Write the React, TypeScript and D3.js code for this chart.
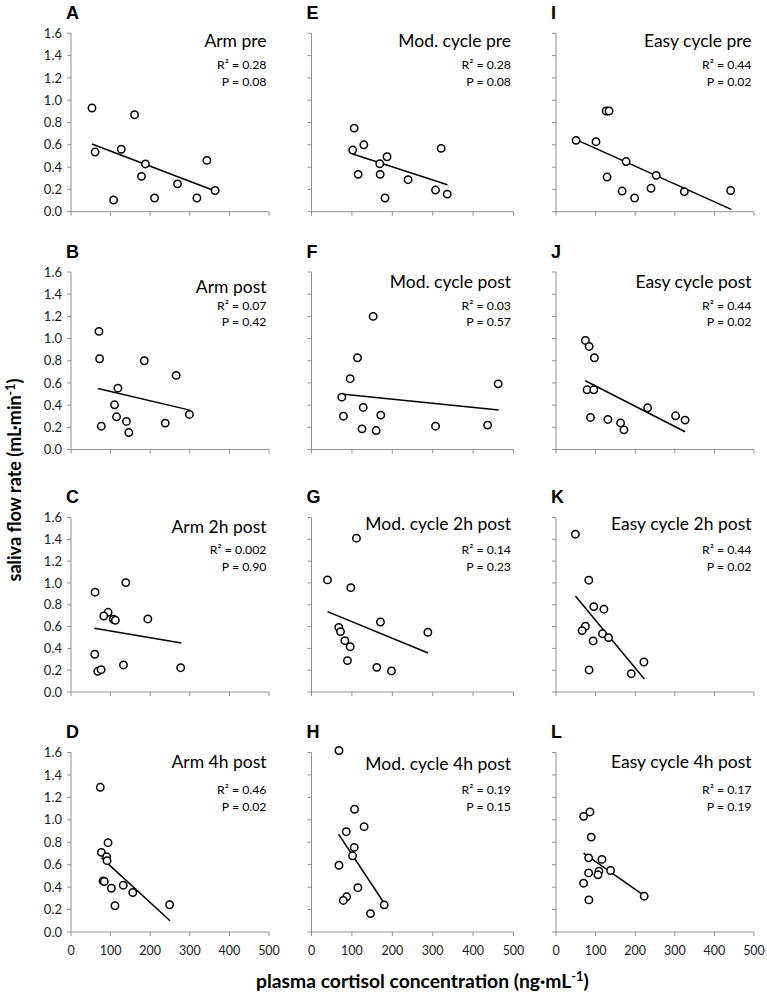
import React from 'react';
import * as d3 from 'd3';

// ---------- DATA ----------
const panelLetters = ['A', 'B', 'C', 'D', 'E', 'F', 'G', 'H', 'I', 'J', 'K', 'L'];
const panelTitles = [
  'Arm pre', 'Arm post', 'Arm 2h post', 'Arm 4h post',
  'Mod. cycle pre', 'Mod. cycle post', 'Mod. cycle 2h post', 'Mod. cycle 4h post',
  'Easy cycle pre', 'Easy cycle post', 'Easy cycle 2h post', 'Easy cycle 4h post',
];
const rSquared = ['0.28', '0.07', '0.002', '0.46', '0.28', '0.03', '0.14', '0.19', '0.44', '0.44', '0.44', '0.17'];
const pValues = ['0.08', '0.42', '0.90', '0.02', '0.08', '0.57', '0.23', '0.15', '0.02', '0.02', '0.02', '0.19'];

const yTicks = [0, 0.2, 0.4, 0.6, 0.8, 1.0, 1.2, 1.4, 1.6];
const xTicks = [0, 100, 200, 300, 400, 500];

// cortisol (ng/mL) and saliva flow (mL/min) per panel
const cortisolA = [53, 61, 107.5, 127, 160.5, 178, 188, 211, 269, 318, 343, 364];
const salivaA = [0.93, 0.535, 0.105, 0.56, 0.87, 0.317, 0.428, 0.123, 0.25, 0.123, 0.46, 0.19];
const cortisolB = [70.6, 72.3, 76.5, 118.5, 110, 115, 140, 146, 185, 265.5, 238, 299];
const salivaB = [1.065, 0.818, 0.21, 0.553, 0.403, 0.295, 0.253, 0.153, 0.8, 0.668, 0.238, 0.316];
const cortisolC = [60.8, 138.4, 93.7, 82.7, 107, 112, 194, 60, 67.5, 76, 132.5, 277];
const salivaC = [0.915, 1.003, 0.731, 0.697, 0.667, 0.658, 0.67, 0.346, 0.19, 0.205, 0.248, 0.223];
const cortisolD = [74, 93.5, 76.7, 90, 91, 81, 84, 102, 132, 156, 111, 249];
const salivaD = [1.29, 0.796, 0.71, 0.671, 0.636, 0.455, 0.45, 0.39, 0.417, 0.352, 0.234, 0.243];
const cortisolE = [105.6, 129.5, 102, 187, 169, 115.5, 170, 239, 182, 321, 307, 336];
const salivaE = [0.75, 0.6, 0.553, 0.493, 0.43, 0.335, 0.335, 0.287, 0.123, 0.568, 0.194, 0.158];
const cortisolF = [152.6, 113.8, 95.7, 75, 79, 128, 171.5, 125, 160, 307, 436, 462];
const salivaF = [1.2, 0.827, 0.638, 0.472, 0.3, 0.379, 0.31, 0.186, 0.171, 0.21, 0.22, 0.592];
const cortisolG = [111.3, 39.6, 97.3, 170.7, 288, 67.6, 71.8, 82.5, 95.7, 89, 161.6, 198];
const salivaG = [1.41, 1.028, 0.957, 0.642, 0.548, 0.593, 0.554, 0.471, 0.416, 0.288, 0.226, 0.193];
const cortisolH = [68, 106.6, 130.3, 86, 105.7, 101.6, 68, 114.8, 87, 78.7, 146, 180];
const salivaH = [1.618, 1.094, 0.939, 0.894, 0.754, 0.679, 0.595, 0.395, 0.314, 0.281, 0.164, 0.242];
const cortisolI = [50.7, 101, 126.7, 134, 177, 253, 129, 167, 198.5, 240, 324, 441];
const salivaI = [0.64, 0.628, 0.903, 0.903, 0.45, 0.326, 0.311, 0.185, 0.123, 0.21, 0.18, 0.19];
const cortisolJ = [74.3, 83.6, 97, 78.5, 95.4, 87, 131, 163, 171.5, 231.4, 302, 326];
const salivaJ = [0.983, 0.929, 0.827, 0.538, 0.538, 0.289, 0.271, 0.24, 0.177, 0.376, 0.304, 0.265];
const cortisolK = [49, 82.8, 95.4, 121, 74.3, 66, 117.4, 132.6, 93.8, 222, 83.6, 190];
const salivaK = [1.447, 1.025, 0.783, 0.759, 0.603, 0.563, 0.535, 0.499, 0.468, 0.275, 0.202, 0.168];
const cortisolL = [85.7, 69.7, 89, 82.4, 116, 137.8, 108.4, 106, 82.4, 69.7, 83, 222.7];
const salivaL = [1.07, 1.031, 0.846, 0.661, 0.647, 0.548, 0.542, 0.51, 0.527, 0.435, 0.286, 0.319];

// fitted trend lines: [x start, y start, x end, y end]
const trendA = [53, 0.607, 364, 0.185];
const trendB = [68, 0.55, 300, 0.355];
const trendC = [59, 0.584, 278.5, 0.45];
const trendD = [76.7, 0.663, 250, 0.1];
const trendE = [102, 0.517, 336.5, 0.242];
const trendF = [74, 0.5, 463.5, 0.355];
const trendG = [39.6, 0.737, 288.7, 0.358];
const trendH = [67, 0.873, 182, 0.245];
const trendI = [50.7, 0.646, 442.6, 0.021];
const trendJ = [74, 0.62, 326, 0.16];
const trendK = [49, 0.881, 223, 0.119];
const trendL = [69.7, 0.703, 224.4, 0.319];

const cortisolSets = [cortisolA, cortisolB, cortisolC, cortisolD, cortisolE, cortisolF, cortisolG, cortisolH, cortisolI, cortisolJ, cortisolK, cortisolL];
const salivaSets = [salivaA, salivaB, salivaC, salivaD, salivaE, salivaF, salivaG, salivaH, salivaI, salivaJ, salivaK, salivaL];
const trendSets = [trendA, trendB, trendC, trendD, trendE, trendF, trendG, trendH, trendI, trendJ, trendK, trendL];

// ---------- LAYOUT ----------
const W = 767;
const H = 996;
const colLeft = [71, 311.5, 556];
const colRight = [269, 513.5, 754];
const rowTop = [33.3, 272, 517.5, 752.5];
const rowBottom = [211.7, 449.5, 692, 932];
// vertical centres of the text lines, relative to the panel top
const titleDy = [7.2, 14.3, 9.2, 9.2, 7.2, 9.7, 5.8, 11.5, 7.2, 9.7, 5.8, 9.2];
const r2Dy = [31.2, 33.6, 32, 37.5];
const pDy = [48.4, 50, 48.8, 53.8];

const AXIS = '#8f8f8f';
const FONT = 'Lato, "Open Sans", sans-serif';
const CAP = 0.7165; // Lato cap height / em
const TITLE_FS = 17.5;
const STAT_FS = 12.3;
const fmtY = d3.format('.1f');

function Panel({ i }: { i: number }) {
  const col = Math.floor(i / 4);
  const row = i % 4;
  const x = d3.scaleLinear().domain([0, 500]).range([colLeft[col], colRight[col]]);
  const y = d3.scaleLinear().domain([0, 1.6]).range([rowBottom[row], rowTop[row]]);
  const xs = cortisolSets[i];
  const ys = salivaSets[i];
  const t = trendSets[i];
  const line = d3.line<number[]>().x((d) => x(d[0])).y((d) => y(d[1]));
  const x0 = x(0);
  const y0 = y(0);
  const right = colRight[col] - 2.5;
  const top = rowTop[row];
  return (
    <g>
      {/* panel letter */}
      <text x={x0 - 5} y={top - 14.5} fontFamily='"Liberation Sans", Arial, sans-serif' fontWeight="bold" fontSize={18} fill="#000">
        {panelLetters[i]}
      </text>
      {/* y axis */}
      <line x1={x0} x2={x0} y1={y(1.6)} y2={y0} stroke={AXIS} strokeWidth={1} />
      {yTicks.map((v) => (
        <line key={'yt' + v} x1={x0 - 4} x2={x0} y1={y(v)} y2={y(v)} stroke={AXIS} strokeWidth={1} />
      ))}
      {col === 0 &&
        yTicks.map((v) => (
          <text key={'yl' + v} x={x0 - 9} y={y(v) + 4.6} textAnchor="end" fontFamily={FONT} fontSize={13} fill="#1a1a1a">
            {fmtY(v)}
          </text>
        ))}
      {/* x axis */}
      <line x1={x0} x2={x(500)} y1={y0} y2={y0} stroke={AXIS} strokeWidth={1} />
      {xTicks.map((v) => (
        <line key={'xt' + v} x1={x(v)} x2={x(v)} y1={y0} y2={y0 + 4} stroke={AXIS} strokeWidth={1} />
      ))}
      {row === 3 &&
        xTicks.map((v) => (
          <text key={'xl' + v} x={x(v)} y={y0 + 22.5} textAnchor="middle" fontFamily={FONT} fontSize={12.5} fill="#1a1a1a">
            {v}
          </text>
        ))}
      {/* trend line */}
      <path d={line([[t[0], t[1]], [t[2], t[3]]]) || ''} stroke="#000" strokeWidth={1.5} fill="none" />
      {/* points */}
      {xs.map((v, k) => (
        <circle key={k} cx={x(v)} cy={y(ys[k])} r={3.7} fill="#fff" stroke="#000" strokeWidth={1.5} />
      ))}
      {/* texts */}
      <text x={right} y={top + titleDy[i] + (CAP * TITLE_FS) / 2} textAnchor="end" fontFamily={FONT} fontSize={TITLE_FS} fill="#000">
        {panelTitles[i]}
      </text>
      <text x={right} y={top + r2Dy[row] + (CAP * STAT_FS) / 2} textAnchor="end" fontFamily={FONT} fontSize={STAT_FS} fill="#000">
        {'R² = ' + rSquared[i]}
      </text>
      <text x={right} y={top + pDy[row] + (CAP * STAT_FS) / 2} textAnchor="end" fontFamily={FONT} fontSize={STAT_FS} fill="#000">
        {'P = ' + pValues[i]}
      </text>
    </g>
  );
}

export default function App() {
  const idx = d3.range(12);
  return (
    <svg width={W} height={H} viewBox={`0 0 ${W} ${H}`} style={{ position: 'absolute', left: 0, top: 0, background: '#fff' }}>
      <rect x={0} y={0} width={W} height={H} fill="#fff" />
      {idx.map((i) => (
        <Panel key={i} i={i} />
      ))}
      <text
        transform={`translate(21,480) rotate(-90)`}
        textAnchor="middle"
        fontFamily={FONT}
        fontWeight="bold"
        fontSize={18}
        fill="#000"
      >
        saliva flow rate (mL·min
        <tspan fontSize={12.5} dy={-6}>-1</tspan>
        <tspan dy={6}>)</tspan>
      </text>
      <text x={422.5} y={988} textAnchor="middle" fontFamily={FONT} fontWeight="bold" fontSize={19.3} fill="#000">
        plasma cortisol concentration (ng·mL
        <tspan fontSize={13} dy={-7}>-1</tspan>
        <tspan dy={7}>)</tspan>
      </text>
    </svg>
  );
}
